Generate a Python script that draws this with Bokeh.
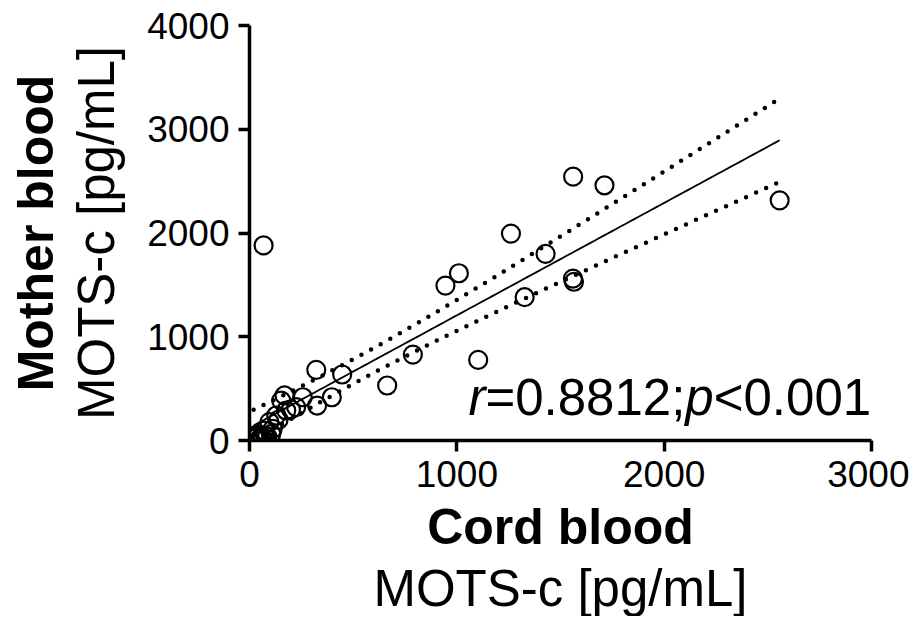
import numpy as np
from bokeh.plotting import figure
from bokeh.models import Title, Label, FixedTicker
from bokeh.embed import file_html
from bokeh.resources import INLINE

# Cord blood (x) vs mother blood (y) MOTS-c, pg/mL
cord = [68, 1561, 1712, 2557, 1261, 1428, 1010, 945, 1560, 1565, 1327, 788, 1103,
        664, 322, 447, 397, 326, 257, 169, 225, 177, 129, 96, 112, 72, 40,
        64, 105, 153, 200, 140, 30, 50, 20, 85, 45, 55, 35, 75, 25]
mother = [1880, 2543, 2460, 2315, 1994, 1798, 1612, 1493, 1560, 1530, 1381, 828, 777,
          530, 681, 636, 417, 337, 417, 434, 321, 289, 241, 177, 113, 96, 48,
          32, 64, 385, 300, 200, 20, 15, 30, 40, 60, 25, 55, 45, 40]

x_ticks = [0, 1000, 2000, 3000]
y_ticks = [0, 1000, 2000, 3000, 4000]

x = np.array(cord, float)
y = np.array(mother, float)
n = len(x)
slope, intercept = np.polyfit(x, y, 1)
resid = y - (slope * x + intercept)
s = np.sqrt(np.sum(resid ** 2) / (n - 2))
xbar = x.mean()
sxx = np.sum((x - xbar) ** 2)
t_crit = 2.024
xs = np.linspace(x.min(), x.max(), 120)
yfit = slope * xs + intercept
se = s * np.sqrt(1.0 / n + (xs - xbar) ** 2 / sxx)
upper = yfit + t_crit * se
lower = yfit - t_crit * se

FONT = "Liberation Sans"

p = figure(frame_width=622, frame_height=415, x_range=(0, 3000), y_range=(0, 4000),
           output_backend="svg", toolbar_location=None,
           min_border_left=249, min_border_right=38, min_border_top=25, min_border_bottom=170)
p.outline_line_color = None
p.grid.visible = False
p.background_fill_color = "white"

p.line(xs, upper, line_color="black", line_width=4.5, line_dash="0 11", line_cap="round")
p.line(xs, lower, line_color="black", line_width=4.5, line_dash="0 11", line_cap="round")
p.line(xs, yfit, line_color="black", line_width=1.8)
p.scatter(cord, mother, marker="circle", size=18, fill_color=None, line_color="black", line_width=2.2)

for ax, ticks in ((p.xaxis[0], x_ticks), (p.yaxis[0], y_ticks)):
    ax.ticker = FixedTicker(ticks=ticks)
    ax.minor_tick_line_color = None
    ax.major_tick_in = 0
    ax.major_tick_out = 11
    ax.major_tick_line_width = 3.5
    ax.axis_line_width = 3.5
    ax.axis_line_color = "black"
    ax.major_tick_line_color = "black"
    ax.major_label_text_font = FONT
    ax.major_label_text_font_size = "37px"
    ax.major_label_text_color = "black"
    ax.major_label_standoff = 9
    ax.axis_label_text_color = "black"

p.xaxis.axis_label = "Cord blood"
p.xaxis.axis_label_text_font = FONT
p.xaxis.axis_label_text_font_style = "bold"
p.xaxis.axis_label_text_font_size = "50px"
p.xaxis.axis_label_standoff = 9

p.yaxis.axis_label = "MOTS-c [pg/mL]"
p.yaxis.axis_label_text_font = FONT
p.yaxis.axis_label_text_font_style = "normal"
p.yaxis.axis_label_text_font_size = "51px"
p.yaxis.axis_label_standoff = 19

p.add_layout(Title(text="MOTS-c [pg/mL]", align="center", text_font=FONT,
                   text_font_size="51px", text_font_style="normal", standoff=0,
                   text_color="black"), "below")
p.add_layout(Title(text="Mother blood", align="center", text_font=FONT,
                   text_font_size="50px", text_font_style="bold", standoff=4,
                   text_color="black"), "left")

# annotation r=0.8812; p<0.001
parts = [("r", "italic"), ("=0.8812;", "normal"), ("p", "italic"), ("<0.001", "normal")]
widths = [0.333, 3.92, 0.556, 3.086]
fs = 51
off = 0
for (txt, style), w in zip(parts, widths):
    p.add_layout(Label(x=1056, y=410, x_offset=off, text=txt, text_font=FONT,
                       text_font_size=f"{fs}px", text_font_style=style,
                       text_color="black", text_baseline="alphabetic"))
    off += w * fs

open("out.html", "w").write(file_html(p, INLINE))
